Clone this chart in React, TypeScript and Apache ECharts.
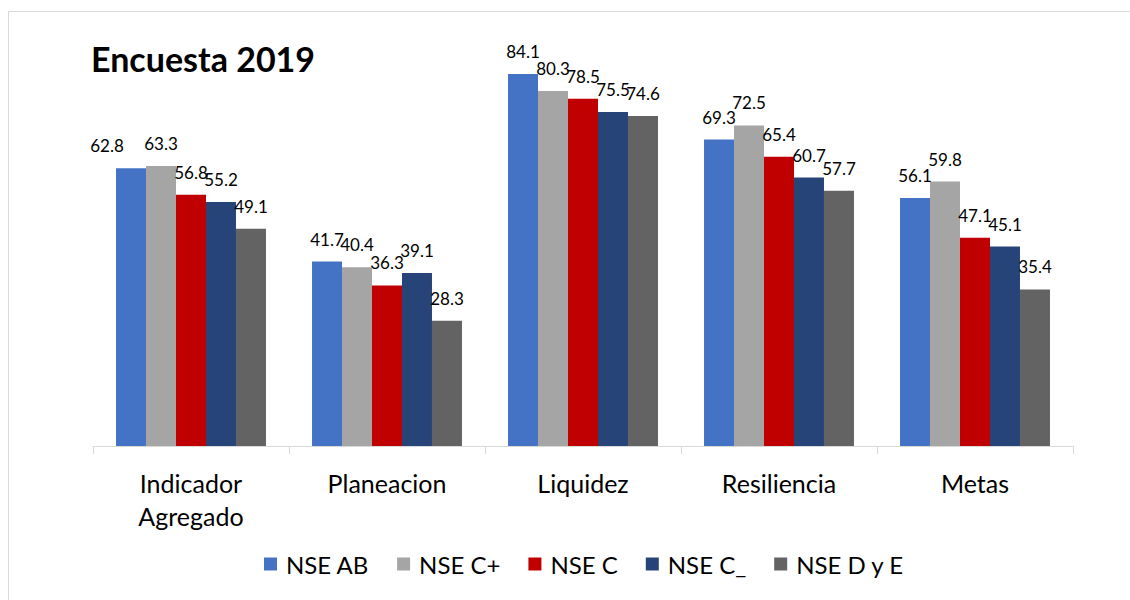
import React, { useEffect, useRef } from "react";
import * as echarts from "echarts";

const categories = ["Indicador\nAgregado", "Planeacion", "Liquidez", "Resiliencia", "Metas"];
const seriesNames = ["NSE AB", "NSE C+", "NSE C", "NSE C_", "NSE D y E"];
const nseAB = [62.8, 41.7, 84.1, 69.3, 56.1];
const nseCPlus = [63.3, 40.4, 80.3, 72.5, 59.8];
const nseC = [56.8, 36.3, 78.5, 65.4, 47.1];
const nseCMinus = [55.2, 39.1, 75.5, 60.7, 45.1];
const nseDE = [49.1, 28.3, 74.6, 57.7, 35.4];
const colors = ["#4472C4", "#A5A5A5", "#C00000", "#264478", "#636363"];

const FONT = "Lato, 'Noto Sans', sans-serif";

export default function App() {
  const ref = useRef<HTMLDivElement>(null);
  useEffect(() => {
    if (!ref.current) return;
    const chart = echarts.init(ref.current, null, { renderer: "svg" });
    const all = [nseAB, nseCPlus, nseC, nseCMinus, nseDE];
    const series = all.map((vals, si) => ({
      name: seriesNames[si],
      type: "bar",
      barGap: "0%",
      barCategoryGap: "23.5%",
      itemStyle: { color: colors[si] },
      data: vals.map((v, ci) => {
        if (si === 0 && ci === 0) {
          return { value: v, label: { offset: [-24, 0] } };
        }
        return v;
      }),
      label: {
        show: true,
        position: "top",
        distance: 14,
        color: "#000",
        fontSize: 17,
        fontFamily: FONT,
      },
    }));
    chart.setOption({
      animation: false,
      color: colors,
      title: {
        text: "Encuesta 2019",
        left: 86,
        top: 36,
        textStyle: { fontFamily: FONT, fontWeight: "bold", fontSize: 34, color: "#000" },
      },
      graphic: [
        {
          type: "rect",
          shape: { x: 8.5, y: 11.5, width: 1200, height: 700 },
          style: { fill: "none", stroke: "#d9d9d9", lineWidth: 1 },
          silent: true,
        },
      ],
      legend: {
        bottom: 19,
        left: 259,
        icon: "rect",
        itemWidth: 13,
        itemHeight: 13,
        itemGap: 28,
        textStyle: { fontFamily: FONT, fontSize: 24, color: "#000", padding: [0, 0, 0, 4] },
        data: seriesNames,
      },
      grid: { left: 93, right: 57, top: 48, bottom: 154, containLabel: false },
      xAxis: {
        type: "category",
        data: categories,
        axisLine: { lineStyle: { color: "#d9d9d9", width: 1 } },
        axisTick: { show: true, length: 8, lineStyle: { color: "#d9d9d9" } },
        axisLabel: {
          fontFamily: FONT,
          fontSize: 25,
          color: "#000",
          margin: 20,
          lineHeight: 33,
          interval: 0,
        },
      },
      yAxis: {
        type: "value",
        min: 0,
        max: 90,
        show: false,
        splitLine: { show: false },
      },
      series,
    });
    return () => chart.dispose();
  }, []);
  return (
    <div
      ref={ref}
      style={{ position: "fixed", left: 0, top: 0, width: 1130, height: 600, background: "#fff" }}
    />
  );
}
